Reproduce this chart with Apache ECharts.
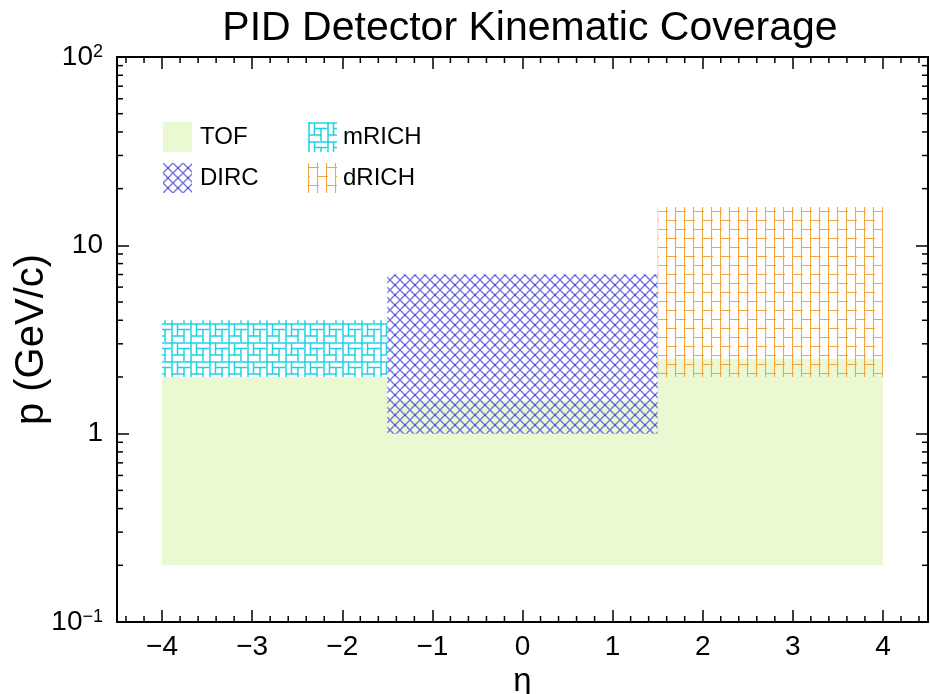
<!DOCTYPE html>
<html>
<head>
<meta charset="utf-8">
<script src="https://cdn.jsdelivr.net/npm/echarts@6/dist/echarts.min.js"></script>
<style>
html,body{margin:0;padding:0;background:#fff;}
#main{width:930px;height:694px;}
</style>
</head>
<body>
<div id="main"></div>
<script>
// ---- data (eta ranges and momentum ranges) ----
const detectors = ['TOF', 'DIRC', 'mRICH', 'dRICH'];
const tofEtaMin = [-4, -1.5, 1.5];
const tofEtaMax = [-1.5, 1.5, 4];
const tofPMin   = [0.2, 0.2, 0.2];
const tofPMax   = [2, 1.5, 2.5];
const mrichEta  = [-4, -1.5];
const mrichP    = [2, 4];
const dircEta   = [-1.5, 1.5];
const dircP     = [1, 7];
const drichEta  = [1.5, 4];
const drichP    = [2, 16];
const xTickLabels = [-4, -3, -2, -1, 0, 1, 2, 3, 4];
const yTickLabels = [0.1, 1, 10, 100];

// ---- patterns ----
function makeTile(w, h, draw) {
  const c = document.createElement('canvas');
  c.width = w; c.height = h;
  const ctx = c.getContext('2d');
  draw(ctx);
  return { image: c, repeat: 'repeat' };
}
const tofColor = '#ebf9d2';
const dircPattern = makeTile(10, 10, ctx => {
  ctx.strokeStyle = 'rgba(100,100,225,0.9)';
  ctx.lineWidth = 1.4;
  ctx.beginPath();
  ctx.moveTo(0, 0); ctx.lineTo(10, 10);
  ctx.moveTo(10, 0); ctx.lineTo(0, 10);
  ctx.stroke();
  ctx.fillStyle = 'rgba(80,80,210,0.9)';
  ctx.fillRect(4, 4, 2, 2);
});
const mrichPattern = makeTile(19, 19, ctx => {
  ctx.strokeStyle = 'rgba(30,210,228,1)';
  ctx.lineWidth = 1.5;
  ctx.beginPath();
  ctx.moveTo(0, 1); ctx.lineTo(19, 1);
  ctx.moveTo(1, 0); ctx.lineTo(1, 19);
  ctx.moveTo(6.5, 1); ctx.lineTo(6.5, 13);
  ctx.moveTo(6.5, 6.5); ctx.lineTo(19, 6.5);
  ctx.moveTo(13, 6.5); ctx.lineTo(13, 19);
  ctx.moveTo(1, 13); ctx.lineTo(13, 13);
  ctx.stroke();
});
const drichPattern = makeTile(18, 18, ctx => {
  ctx.strokeStyle = 'rgba(245,158,55,0.95)';
  ctx.lineWidth = 1.1;
  ctx.beginPath();
  ctx.moveTo(0.5, 0); ctx.lineTo(0.5, 18);
  ctx.moveTo(9.5, 0); ctx.lineTo(9.5, 18);
  ctx.moveTo(0, 4.5); ctx.lineTo(11, 4.5);
  ctx.moveTo(9, 13.5); ctx.lineTo(18, 13.5);
  ctx.moveTo(0, 13.5); ctx.lineTo(2, 13.5);
  ctx.stroke();
});

// ---- helpers ----
function boxes(etaMin, etaMax, pMin, pMax) {
  return etaMin.map((e, i) => [e, etaMax[i], pMin[i], pMax[i]]);
}
function rectRender(params, api) {
  const p0 = api.coord([api.value(0), api.value(3)]);
  const p1 = api.coord([api.value(1), api.value(2)]);
  const st = api.style();
  st.stroke = null;
  st.lineWidth = 0;
  return { type: 'rect', shape: { x: p0[0], y: p0[1], width: p1[0] - p0[0], height: p1[1] - p0[1] }, style: st };
}
// minor tick positions (axis structure)
const xMinor = [];
for (let i = -22; i <= 22; i++) { if (i % 5 !== 0) xMinor.push(i / 5); }
const yMinor = [];
[0.1, 1, 10].forEach(d => { for (let m = 2; m <= 9; m++) yMinor.push(+(d * m).toPrecision(3)); });

const FONT = 'Liberation Sans, Arial, Helvetica, sans-serif';
const chart = echarts.init(document.getElementById('main'), null, { renderer: 'canvas' });

function supLabel(v) {
  const e = Math.round(Math.log10(v));
  if (e === 0) return '{b|1}';
  if (e === 1) return '{b|10}';
  return '{b|10}{s|' + (e < 0 ? '\u2212' + (-e) : e) + '}';
}

const axisLine = { show: true, onZero: false, lineStyle: { color: '#000', width: 2 } };
const majorTick = { show: true, inside: true, length: 12, lineStyle: { color: '#000', width: 1.5 } };

chart.setOption({
  animation: false,
  backgroundColor: '#fff',
  title: {
    text: 'PID Detector Kinematic Coverage',
    left: 525, top: 3, textAlign: 'center',
    textStyle: { fontFamily: FONT, fontSize: 41, fontWeight: 'normal', color: '#000' }
  },
  legend: [
    {
      data: ['TOF', 'DIRC'], orient: 'vertical', left: 163, top: 122, padding: 0,
      itemWidth: 29, itemHeight: 30, itemGap: 11, icon: 'rect',
      textStyle: { fontFamily: FONT, fontSize: 24, color: '#000', padding: [0, 0, 0, 3] }
    },
    {
      data: ['mRICH', 'dRICH'], orient: 'vertical', left: 308, top: 122, padding: 0,
      itemWidth: 29, itemHeight: 30, itemGap: 11, icon: 'rect',
      textStyle: { fontFamily: FONT, fontSize: 24, color: '#000', padding: [0, 0, 0, 1] }
    }
  ],
  grid: { left: 117, right: 2, top: 57, bottom: 72, containLabel: false, outerBoundsMode: 'none' },
  xAxis: [
    {
      type: 'value', min: -4.5, max: 4.5, splitNumber: 9, position: 'bottom',
      axisLine: axisLine, axisTick: majorTick, splitLine: { show: false },
      axisLabel: {
        fontFamily: FONT, fontSize: 28, color: '#000', margin: 11,
        formatter: v => xTickLabels.indexOf(v) >= 0 ? (v < 0 ? '\u2212' + (-v) : String(v)) : ''
      },
      name: '\u03b7', nameLocation: 'middle', nameGap: 33,
      nameTextStyle: { fontFamily: FONT, fontSize: 33, color: '#000' }
    },
    {
      type: 'value', min: -4.5, max: 4.5, splitNumber: 9, position: 'top',
      axisLine: axisLine, axisTick: majorTick, splitLine: { show: false },
      axisLabel: { show: false }
    }
  ],
  yAxis: [
    {
      type: 'log', logBase: 10, min: 0.1, max: 100, position: 'left',
      axisLine: axisLine, axisTick: majorTick, splitLine: { show: false }, minorTick: { show: false },
      axisLabel: {
        margin: 14, color: '#000',
        formatter: v => supLabel(v),
        rich: {
          b: { fontFamily: FONT, fontSize: 28, color: '#000' },
          s: { fontFamily: FONT, fontSize: 18, color: '#000', verticalAlign: 'top', padding: [0, 0, 10, 0] }
        }
      },
      name: 'p (GeV/c)', nameLocation: 'middle', nameGap: 65, nameRotate: 90, nameMoveOverlap: false,
      nameTextStyle: { fontFamily: FONT, fontSize: 40, color: '#000' }
    },
    {
      type: 'log', logBase: 10, min: 0.1, max: 100, position: 'right',
      axisLine: axisLine, axisTick: majorTick, splitLine: { show: false },
      axisLabel: { show: false }
    }
  ],
  series: [
    {
      name: 'TOF', type: 'custom', xAxisIndex: 0, yAxisIndex: 0,
      itemStyle: { color: tofColor },
      renderItem: rectRender, encode: { x: [0, 1], y: [2, 3] },
      data: boxes(tofEtaMin, tofEtaMax, tofPMin, tofPMax), z: 1
    },
    {
      name: 'mRICH', type: 'custom',
      itemStyle: { color: mrichPattern },
      renderItem: rectRender, encode: { x: [0, 1], y: [2, 3] },
      data: [[mrichEta[0], mrichEta[1], mrichP[0], mrichP[1]]], z: 2
    },
    {
      name: 'DIRC', type: 'custom',
      itemStyle: { color: dircPattern },
      renderItem: rectRender, encode: { x: [0, 1], y: [2, 3] },
      data: [[dircEta[0], dircEta[1], dircP[0], dircP[1]]], z: 2
    },
    {
      name: 'dRICH', type: 'custom',
      itemStyle: { color: drichPattern },
      renderItem: rectRender, encode: { x: [0, 1], y: [2, 3] },
      data: [[drichEta[0], drichEta[1], drichP[0], drichP[1]]], z: 2
    },
    {
      name: 'xMinorTicks', type: 'custom', silent: true, z: 5,
      renderItem: (params, api) => {
        const v = api.value(0);
        const b = api.coord([v, 0.1]);
        const t = api.coord([v, 100]);
        return { type: 'group', children: [
          { type: 'line', shape: { x1: b[0], y1: b[1], x2: b[0], y2: b[1] - 6 }, style: { stroke: '#000', lineWidth: 1.5 } },
          { type: 'line', shape: { x1: t[0], y1: t[1], x2: t[0], y2: t[1] + 6 }, style: { stroke: '#000', lineWidth: 1.5 } }
        ]};
      },
      encode: { x: 0 },
      data: xMinor.map(v => [v, 1])
    },
    {
      name: 'yMinorTicks', type: 'custom', silent: true, z: 5,
      renderItem: (params, api) => {
        const v = api.value(1);
        const l = api.coord([-4.5, v]);
        const r = api.coord([4.5, v]);
        return { type: 'group', children: [
          { type: 'line', shape: { x1: l[0], y1: l[1], x2: l[0] + 6, y2: l[1] }, style: { stroke: '#000', lineWidth: 1.5 } },
          { type: 'line', shape: { x1: r[0], y1: r[1], x2: r[0] - 6, y2: r[1] }, style: { stroke: '#000', lineWidth: 1.5 } }
        ]};
      },
      encode: { y: 1 },
      data: yMinor.map(v => [0, v])
    }
  ]
});
</script>
</body>
</html>
